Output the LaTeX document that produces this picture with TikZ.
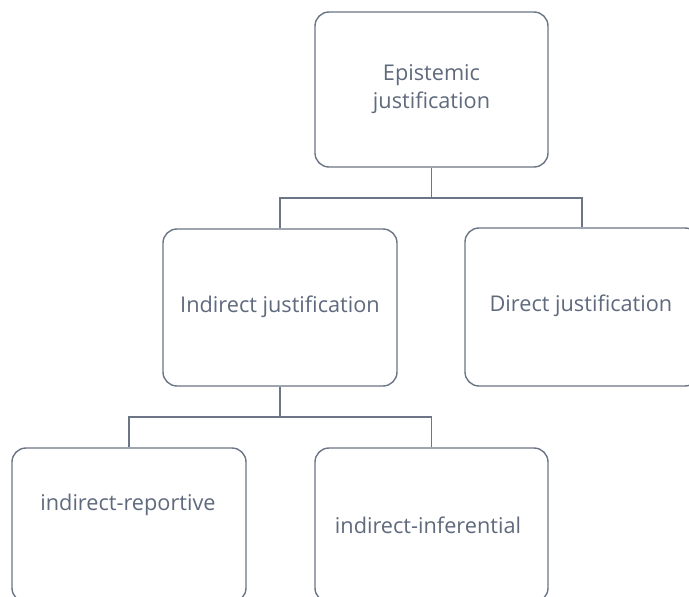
\documentclass[tikz,border=0pt]{standalone}
\usepackage{fontspec}
\setmainfont{Open Sans}
\definecolor{linec}{HTML}{6B7585}
\definecolor{textc}{HTML}{5F6A7D}
\begin{document}
\begin{tikzpicture}[x=1pt,y=-1pt,
  box/.style={draw=linec,line width=1.4pt,rounded corners=14pt,fill=white,inner sep=0pt},
  lbl/.style={text=textc,font=\fontsize{21.7}{28}\selectfont,align=center,inner sep=0pt},
  conn/.style={draw=linec,line width=1.5pt}]
\useasboundingbox (0,0) rectangle (689,597);
\clip (0,0) rectangle (689,597);
% boxes
\node[box,minimum width=233pt,minimum height=155pt] (top) at (431.5,89.5) {};
\node[box,minimum width=234pt,minimum height=157pt] (ind) at (280,307.5) {};
\node[box,minimum width=234pt,minimum height=158pt] (dir) at (582,307) {};
\node[box,minimum width=234pt,minimum height=154pt] (rep) at (129,525) {};
\node[box,minimum width=233pt,minimum height=154pt] (inf) at (431.5,525) {};
% labels
\node[lbl] (tTop) at (431.5,89.5) {Epistemic\\justification};
\node[lbl] (tInd) at (280,307) {Indirect justification};
\node[lbl] (tDir) at (581,306) {Direct justification};
\node[lbl] (tRep) at (128,505) {indirect-reportive};
\node[lbl] (tInf) at (428,525) {indirect-inferential};
% junctions
\coordinate (j1) at (431.5,198);
\coordinate (j2) at (280,417);
% connectors
\draw[conn] (top.south) -- (j1);
\draw[conn] (j1) -| (ind.north);
\draw[conn] (j1) -| (dir.north);
\draw[conn] (ind.south) -- (j2);
\draw[conn] (j2) -| (rep.north);
\draw[conn] (j2) -| (inf.north);
\end{tikzpicture}
\end{document}
